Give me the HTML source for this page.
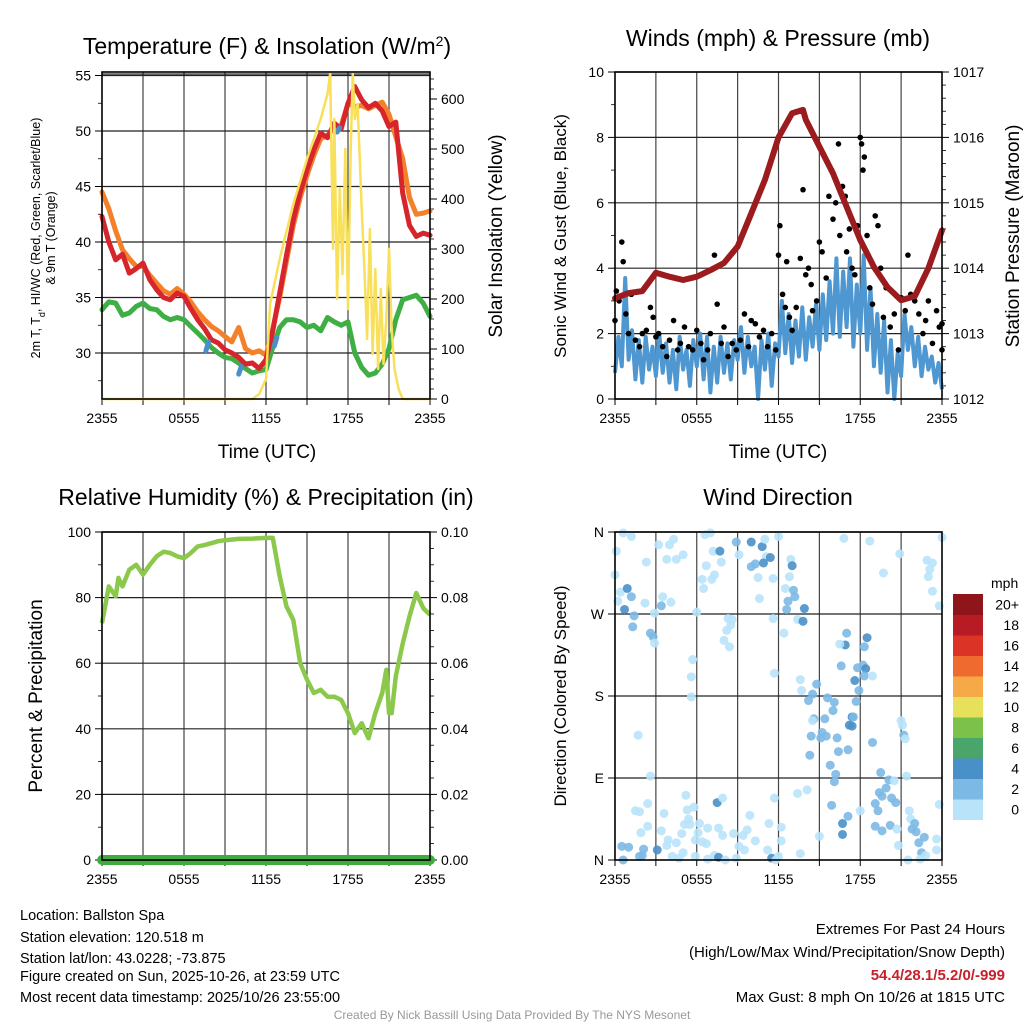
<!DOCTYPE html>
<html><head><meta charset="utf-8"><title>Mesonet Meteogram</title>
<style>
html,body{margin:0;padding:0;background:#fff;}
svg{display:block;font-family:"Liberation Sans",Arial,sans-serif;}
</style></head>
<body>
<svg id="chart" width="1024" height="1024" viewBox="0 0 1024 1024" xmlns="http://www.w3.org/2000/svg">
<rect width="1024" height="1024" fill="#fff"/>
<g id="layer"></g>
<text x="267" y="54" font-size="23" text-anchor="middle">Temperature (F) &amp; Insolation (W/m<tspan baseline-shift="super" font-size="14">2</tspan>)</text>
<text x="778" y="46" font-size="23" text-anchor="middle">Winds (mph) &amp; Pressure (mb)</text>
<text x="266" y="505" font-size="23" text-anchor="middle">Relative Humidity (%) &amp; Precipitation (in)</text>
<text x="778" y="505" font-size="23" text-anchor="middle">Wind Direction</text>
<text x="267" y="458" font-size="19" text-anchor="middle">Time (UTC)</text>
<text x="778" y="458" font-size="19" text-anchor="middle">Time (UTC)</text>
<text transform="translate(40,238) rotate(-90)" font-size="12.5" text-anchor="middle">2m T, T<tspan baseline-shift="sub" font-size="9">d</tspan>, HI/WC (Red, Green, Scarlet/Blue)</text>
<text transform="translate(55,238) rotate(-90)" font-size="12.5" text-anchor="middle">&amp; 9m T (Orange)</text>
<text transform="translate(502,236) rotate(-90)" font-size="19" text-anchor="middle">Solar Insolation (Yellow)</text>
<text transform="translate(566,236) rotate(-90)" font-size="17" text-anchor="middle">Sonic Wind &amp; Gust (Blue, Black)</text>
<text transform="translate(1019,236) rotate(-90)" font-size="19" text-anchor="middle">Station Pressure (Maroon)</text>
<text transform="translate(42,696) rotate(-90)" font-size="19" text-anchor="middle">Percent &amp; Precipitation</text>
<text transform="translate(566,696) rotate(-90)" font-size="17" text-anchor="middle">Direction (Colored By Speed)</text>
<g font-size="14.5">
<text x="20" y="920">Location: Ballston Spa</text>
<text x="20" y="942">Station elevation: 120.518 m</text>
<text x="20" y="963">Station lat/lon: 43.0228; -73.875</text>
<text x="20" y="981">Figure created on Sun, 2025-10-26, at 23:59 UTC</text>
<text x="20" y="1002">Most recent data timestamp: 2025/10/26 23:55:00</text>
</g>
<g font-size="15" text-anchor="end">
<text x="1005" y="934">Extremes For Past 24 Hours</text>
<text x="1005" y="957">(High/Low/Max Wind/Precipitation/Snow Depth)</text>
<text x="1005" y="980" fill="#c8202a" font-weight="bold">54.4/28.1/5.2/0/-999</text>
<text x="1005" y="1002">Max Gust: 8 mph On 10/26 at 1815 UTC</text>
</g>
<text x="512" y="1019" font-size="12" fill="#999" text-anchor="middle">Created By Nick Bassill Using Data Provided By The NYS Mesonet</text>
</svg>
<script>
// ---- data ----
const timeTickLabels = ["2355","0555","1155","1755","2355"];
const tempTicks = [30,35,40,45,50,55];
const solarTicks = [0,100,200,300,400,500,600];
const windTicks = [0,2,4,6,8,10];
const presTicks = [1012,1013,1014,1015,1016,1017];
const rhTicks = [0,20,40,60,80,100];
const precipTicks = ["0.00","0.02","0.04","0.06","0.08","0.10"];
const dirLabels = ["N","E","S","W","N"];
const speedLegendLabels = ["0","2","4","6","8","10","12","14","16","18","20+"];
const speedLegendColors = ["#b8e3f9","#7db9e5","#4a90c8","#4aa56b","#7cc24a","#e6e05a","#f5a947","#ee6a2e","#dc3327","#b71c24","#8e1519"];

const tempHours = [0,0.5,1,1.5,2,2.5,3,3.5,4,4.5,5,5.5,6,6.5,7,7.5,8,8.5,9,9.5,10,10.5,11,11.5,12,12.5,13,13.5,14,14.5,15,15.5,16,16.5,17,17.5,18,18.5,19,19.5,20,20.5,21,21.5,22,22.5,23,23.5,24];
const temp2m = [42.3,40.0,38.4,38.9,37.2,37.6,38.1,36.6,35.7,35.0,34.8,35.4,35.1,34.0,33.0,32.2,31.2,30.9,30.3,30.0,29.6,29.0,29.1,28.6,29.4,32.0,35.4,38.8,42.0,44.5,46.5,48.3,49.8,49.4,50.7,50.2,52.5,54.0,52.8,52.1,52.5,51.8,50.4,50.8,44.4,41.5,40.5,40.8,40.6];
const temp9m = [44.5,43.0,41.0,39.3,38.5,37.8,37.8,37.0,36.3,35.6,35.3,35.8,35.3,34.6,33.7,33.0,32.4,32.0,31.5,31.0,32.3,30.4,30.0,30.2,29.8,32.2,35.0,38.3,41.5,44.0,46.0,47.8,49.3,49.6,50.3,50.5,52.5,52.2,52.3,52.0,52.3,52.6,51.5,49.5,47.5,44.0,42.5,42.6,42.8];
const dewpoint = [33.9,34.6,34.5,33.4,33.6,34.2,34.5,34.0,33.9,33.3,33.0,33.2,33.0,32.4,31.8,31.2,30.5,30.0,29.6,29.5,29.1,28.6,28.2,28.4,28.5,30.5,32.3,33.0,33.0,32.8,32.3,32.5,32.0,33.2,32.8,32.5,32.8,30.0,28.7,28.0,28.2,29.0,30.4,33.0,34.8,35.0,35.2,34.5,33.3];
const hiwcHours = [[7.6,7.8],[10.0,10.2],[12.6,12.8],[17.2,17.4]];
const hiwcTemps = [[30.2,31.0],[28.1,28.8],[30.6,31.4],[49.9,50.3]];

const solarHours = [0,11,11.5,12,12.3,13,14,15,16,16.5,16.7,16.9,17.0,17.2,17.4,17.6,17.8,18.0,18.2,18.35,18.5,18.7,19.0,19.2,19.4,19.6,19.8,20.0,20.2,20.4,20.6,20.8,21.0,21.2,21.4,21.7,22,24];
const solarValues = [0,0,10,40,190,280,390,480,560,610,652,300,560,200,420,250,500,180,500,650,560,590,380,260,120,340,90,260,60,220,70,160,300,140,60,20,0,0];

const presHours = [0,1,2,3,4,5,6,7,8,9,10,11,12,13,13.8,14,15,16,17,18,19,20,21,22,23,24];
const presValues = [1013.54,1013.62,1013.65,1013.93,1013.87,1013.82,1013.87,1013.97,1014.08,1014.33,1014.84,1015.35,1016.0,1016.37,1016.42,1016.27,1015.86,1015.45,1014.94,1014.43,1014.02,1013.71,1013.51,1013.57,1014.0,1014.58];

// sonic wind every 15 minutes from 2355
const windSpeeds = [
 0.8,1.9,1.0,3.7,1.2,2.1,0.6,1.8,0.5,1.9,0.9,1.6,0.7,
 2.0,0.8,1.7,0.5,1.5,0.3,1.9,0.9,1.5,0.4,1.8,1.0,
 2.0,0.6,1.9,0.2,1.6,0.5,1.9,0.8,1.7,0.6,1.8,1.2,
 2.2,0.8,1.9,1.0,1.6,0.0,1.8,0.9,2.0,0.4,1.7,1.3,
 3.0,1.4,2.6,1.1,2.4,1.3,2.8,1.2,2.5,1.6,2.9,1.5,
 3.2,1.8,3.6,2.0,4.3,1.9,3.9,2.2,4.3,1.6,3.5,2.0,
 4.4,1.5,3.4,1.0,2.6,0.8,2.4,0.2,1.8,0.0,1.4,0.7,
 2.6,1.5,2.2,1.0,1.9,0.7,1.6,0.9,1.3,0.5,1.1,0.3];
const windStepHours = 0.25;

const gustHours = [0.0,0.1,0.3,0.5,0.6,0.8,1.0,1.2,1.5,1.8,2.0,2.3,2.6,2.8,3.0,3.2,3.5,3.8,4.0,4.3,4.6,4.8,5.1,5.4,5.7,6.0,6.3,6.5,6.8,7.0,7.3,7.5,7.8,8.0,8.3,8.6,8.9,9.2,9.5,9.8,10.0,10.3,10.6,10.9,11.2,11.5,11.8,12.0,12.1,12.3,12.5,12.6,12.8,13.0,13.3,13.6,13.8,14.0,14.2,14.4,14.5,14.8,15.0,15.2,15.5,15.7,15.9,16.0,16.2,16.4,16.5,16.7,16.9,17.0,17.2,17.4,17.6,17.8,18.0,18.1,18.2,18.3,18.5,18.7,18.9,19.1,19.3,19.5,19.7,19.9,20.2,20.5,20.8,21.0,21.3,21.5,21.7,22.0,22.3,22.6,22.8,23.0,23.3,23.6,23.8,24.0,24.0];
const gustSpeeds = [2.4,3.3,3.0,4.8,4.2,2.6,2.0,3.2,1.8,1.6,2.0,2.1,2.8,2.5,1.9,2.0,1.6,1.3,1.8,2.4,1.5,1.7,2.2,1.6,1.5,2.1,1.7,1.2,1.5,2.0,4.4,2.9,1.7,2.2,1.3,1.7,1.5,1.8,2.6,1.6,2.4,2.3,1.9,2.1,1.6,2.0,1.5,4.4,5.3,3.2,2.8,4.2,2.5,2.1,2.8,4.3,6.4,3.8,4.0,3.5,2.7,3.0,4.8,4.5,3.7,6.2,7.0,5.5,6.0,7.8,5.0,6.5,6.2,4.5,5.2,4.0,3.8,5.3,8.0,7.8,7.0,7.4,5.0,3.4,2.9,5.6,5.3,4.0,2.5,3.4,2.2,2.6,1.5,3.1,2.7,4.4,3.2,3.0,2.6,2.0,2.4,3.0,1.7,2.7,2.2,1.5,2.3];

const rhHours = [0,0.5,1,1.2,1.5,2,2.5,3,3.5,4,4.5,5,5.5,6,6.5,7,7.5,8,8.5,9,10,11,12,12.5,13,13.5,14,14.5,15,15.5,16,16.5,17,17.5,18,18.5,19,19.5,20,20.5,20.8,21,21.2,21.5,22,22.5,23,23.5,24];
const rhValues = [72.2,83.4,80.4,86,83.4,88.5,90,87,90,92.6,94,93.6,92.6,92,93.6,95.6,96,96.6,97.2,97.5,97.9,98,98.2,98.2,86.5,77.3,73.2,60,55,50.9,51.9,49.8,49.8,48.8,44.8,38.7,41.7,37.1,44.8,50.9,58,44.8,44.8,56,66,74.3,81.4,76.8,74.8];
const precipHours = [0,24];
const precipValues = [0,0];

const dirHours = [
 0.6,1.2,0.1,0,2.3,3.2,4.0,4.3,3.8,4.5,
 5.0,6.6,7.0,7.2,7.7,7.8,6.7,6.4,7.1,7.3,
 6.5,8.9,9.1,10.0,10.8,11.0,11.1,11.4,10.3,10.9,
 10.0,10.5,11.6,10.6,12.0,12.9,13.0,12.8,12.5,13.1,
 13.2,12.7,12.6,13.9,13.4,11.6,12.4,13.8,16.8,18.7,
 20.9,19.7,22.9,23.3,23.1,23.0,23.3,23.8,24.0,0.4,
 0.9,1.2,0.2,0.7,1.4,1.3,2.2,2.9,3.5,3.4,
 4.1,2.6,2.8,2.9,6.0,8.3,8.6,8.5,8.2,8.0,
 8.4,5.7,5.6,5.6,1.7,2.6,11.7,13.6,13.7,17.0,
 16.9,16.5,18.5,18.3,16.6,17.8,18.2,18.4,18.3,18.9,
 17.6,14.8,14.5,14.2,15.6,16.1,17.9,17.7,16.0,15.4,
 14.6,14.5,17.4,17.5,17.2,17.4,15.2,15.5,15.1,14.4,
 16.3,17.1,16.4,14.3,15.8,16.2,16.1,18.9,21.0,21.1,
 21.2,21.3,21.4,19.5,20.1,20.5,19.9,19.4,19.6,20.3,
 20.6,19.1,19.3,18.0,17.1,16.7,16.7,15.9,19.1,19.6,
 20.2,20.7,21.6,21.7,22.0,22.1,21.8,22.7,22.3,22.5,
 22.8,23.6,23.6,23.8,20.8,21.5,22.4,0.5,1.0,0.6,
 2.1,2.0,1.8,3.1,1.5,1.8,2.4,2.4,1.9,3.6,
 3.4,3.9,3.8,4.5,4.2,4.7,5.0,4.9,5.2,5.3,
 5.8,5.4,5.1,5.5,6.2,6.1,5.9,6.4,6.7,6.8,
 5.9,6.8,7.5,7.6,7.9,7.9,7.3,7.6,8.1,8.7,
 8.9,9.1,9.4,9.7,9.5,9.9,10.3,11.3,11.2,11.5,
 11.8,12.0,12.2,12.2,11.7,13.4,14.1,13.6,15.0];
const dirDegrees = [
 359,355,339,313,327,346,346,352,330,330,
 335,357,359,339,339,327,323,308,308,313,
 298,349,335,349,344,352,333,332,325,326,
 322,310,309,287,355,330,323,311,298,296,
 289,284,275,276,264,265,249,262,353,350,
 336,315,329,326,319,311,295,279,354,294,
 298,289,284,275,268,256,282,271,289,279,
 283,249,245,238,272,265,264,258,252,241,
 234,220,201,179,137,92,205,198,186,249,
 236,237,244,234,213,211,214,210,202,202,
 197,193,182,175,178,173,186,174,164,155,
 155,153,157,157,148,147,140,136,134,136,
 134,121,119,115,104,94,86,129,153,148,
 137,133,92,96,88,87,79,74,70,68,
 63,62,54,54,48,40,28,60,37,32,
 38,34,54,45,40,31,34,25,19,8,
 5,23,11,61,16,0,1,15,14,0,
 12,5,4,11,54,53,62,37,30,51,
 32,22,16,19,4,2,8,29,71,55,
 58,45,39,39,40,30,22,20,18,35,
 4,1,63,35,68,27,5,3,0,29,
 2,15,27,33,11,49,21,40,11,2,
 0,4,36,21,68,73,77,7,26];
const dirSpeeds = [
 1,1,1,1,1,1,1,1,1,1,
 1,1,1,1,5,1,1,1,1,1,
 1,3,1,5,5,1,1,5,3,5,
 3,1,1,1,1,1,5,1,1,3,
 3,3,3,5,1,1,1,5,1,1,
 1,1,1,1,1,1,1,1,1,1,
 5,3,1,5,3,3,1,1,1,3,
 1,3,3,1,1,1,1,1,1,1,
 1,1,1,1,1,1,1,1,1,3,
 5,1,5,3,3,3,3,5,3,1,
 5,3,3,3,3,3,3,3,3,3,
 3,1,5,3,5,5,3,3,3,3,
 3,3,3,3,3,3,3,3,1,1,
 3,1,1,3,3,1,3,3,3,3,
 3,3,3,1,3,5,5,3,3,3,
 3,1,1,1,3,3,3,3,3,3,
 1,1,1,1,1,1,1,3,3,3,
 3,3,3,5,1,1,1,1,1,1,
 1,1,1,1,1,1,1,1,1,1,
 1,1,1,1,1,1,1,1,1,1,
 1,1,5,1,1,1,1,5,1,1,
 1,1,1,1,1,1,1,1,1,5,
 1,1,1,1,1,1,1,1,1];

// ---- rendering ----
const NS = "http://www.w3.org/2000/svg";
const layer = document.getElementById("layer");
function mk(tag, attrs, parent) {
  const e = document.createElementNS(NS, tag);
  for (const k in attrs) e.setAttribute(k, attrs[k]);
  (parent || layer).appendChild(e);
  return e;
}
function linScale(d0, d1, r0, r1) { return v => r0 + (v - d0) / (d1 - d0) * (r1 - r0); }

const P1 = {x0:102, x1:430, y0:72, y1:399};
const P2 = {x0:615, x1:942, y0:72, y1:399};
const P3 = {x0:102, x1:430, y0:532, y1:860};
const P4 = {x0:615, x1:942, y0:532, y1:860};

const x1s = linScale(0, 24, P1.x0, P1.x1);
const x2s = linScale(0, 24, P2.x0, P2.x1);
const x3s = linScale(0, 24, P3.x0, P3.x1);
const x4s = linScale(0, 24, P4.x0, P4.x1);
const yTemp = linScale(30, 50, 353, 131);
const ySolar = linScale(0, 600, 399, 99);
const yWind = linScale(0, 10, 399, 72);
const yPres = linScale(1012, 1017, 399, 72);
const yRH = linScale(0, 100, 860, 532);
const yDir = linScale(0, 360, 860, 532);

function panelFrame(P, name, xs, yLeftTicks, yLeftFn, yLeftLabels, yLeftMinor, yRightTicks, yRightFn, yRightLabels, yRightMinor, gridH) {
  const g = mk("g", {});
  
  
  for (let h = 3; h < 24; h += 3) {
    const x = xs(h);
    const gl = mk("line", {x1:x, x2:x, y1:P.y0, y2:P.y1, stroke:"#444", "stroke-width":1.2}, g);
    
    
  }
  gridH.forEach(y => {
    const hl = mk("line", {x1:P.x0, x2:P.x1, y1:y, y2:y, stroke:"#222", "stroke-width":1.2}, g);
    
    
  });
  for (let h = 0; h <= 24; h += 3) {
    const x = xs(h);
    mk("line", {x1:x, x2:x, y1:P.y1, y2:P.y1 + 6, stroke:"#000", "stroke-width":1}, g);
  }
  timeTickLabels.forEach((lab, i) => {
    const t = mk("text", {x:xs(i * 6), y:P.y1 + 24, "font-size":14, "text-anchor":"middle"}, g);
    t.textContent = lab;
    
    
  });
  yLeftTicks.forEach((v, i) => {
    const y = yLeftFn(v);
    mk("line", {x1:P.x0 - 7, x2:P.x0, y1:y, y2:y, stroke:"#000", "stroke-width":1}, g);
    const t = mk("text", {x:P.x0 - 11, y:y + 5, "font-size":14, "text-anchor":"end"}, g);
    t.textContent = yLeftLabels[i];
    
    
  });
  yLeftMinor.forEach(v => {
    const y = yLeftFn(v);
    mk("line", {x1:P.x0 - 4, x2:P.x0, y1:y, y2:y, stroke:"#000", "stroke-width":0.8}, g);
  });
  if (yRightTicks) {
    yRightTicks.forEach((v, i) => {
      const y = yRightFn(v);
      mk("line", {x1:P.x1, x2:P.x1 + 7, y1:y, y2:y, stroke:"#000", "stroke-width":1}, g);
      const t = mk("text", {x:P.x1 + 11, y:y + 5, "font-size":14, "text-anchor":"start"}, g);
      t.textContent = yRightLabels[i];
      
      
    });
    yRightMinor.forEach(v => {
      const y = yRightFn(v);
      mk("line", {x1:P.x1, x2:P.x1 + 4, y1:y, y2:y, stroke:"#000", "stroke-width":0.8}, g);
    });
  }
  return g;
}
function frameBox(P, name) {
  const r = mk("rect", {x:P.x0, y:P.y0, width:P.x1 - P.x0, height:P.y1 - P.y0, fill:"none", stroke:"#000", "stroke-width":1.6});
  
  
}
function pathFrom(xsArr, ysArr, xs, ys) {
  return xsArr.map((h, i) => (i ? "L" : "M") + xs(h).toFixed(1) + "," + ys(ysArr[i]).toFixed(1)).join(" ");
}
function range(a, b, s) { const r = []; for (let v = a; v <= b + 1e-9; v += s) r.push(+v.toFixed(4)); return r; }

// ---- Panel 1 ----
panelFrame(P1, "temperature", x1s, tempTicks, yTemp, tempTicks.map(String), range(27.5, 52.5, 5),
  solarTicks, ySolar, solarTicks.map(String), range(20, 640, 20).filter(v => v % 100 !== 0),
  tempTicks.map(yTemp));
mk("line", {x1:P1.x0, x2:P1.x1, y1:P1.y0 + 2, y2:P1.y0 + 2, stroke:"#000", "stroke-width":1});
let p;
p = mk("path", {d:pathFrom(tempHours, dewpoint, x1s, yTemp), fill:"none", stroke:"#3fae44", "stroke-width":5, "stroke-linejoin":"round", "stroke-linecap":"round"});


p = mk("path", {d:pathFrom(tempHours, temp9m, x1s, yTemp), fill:"none", stroke:"#f4802c", "stroke-width":5, "stroke-linejoin":"round", "stroke-linecap":"round"});


p = mk("path", {d:pathFrom(tempHours, temp2m, x1s, yTemp), fill:"none", stroke:"#d7262b", "stroke-width":5, "stroke-linejoin":"round", "stroke-linecap":"round"});


hiwcHours.forEach((hs, i) => {
  const s = mk("path", {d:pathFrom(hs, hiwcTemps[i], x1s, yTemp), fill:"none", stroke:"#4a90c8", "stroke-width":5, "stroke-linecap":"round"});
  
  
});
p = mk("path", {d:pathFrom(solarHours, solarValues, x1s, ySolar), fill:"none", stroke:"#f8e05a", "stroke-width":2.5, "stroke-linejoin":"round"});


frameBox(P1, "temperature");

// ---- Panel 2 ----
panelFrame(P2, "winds", x2s, windTicks, yWind, windTicks.map(String), range(1, 9, 2),
  presTicks, yPres, presTicks.map(String), range(1012.2, 1016.8, 0.2).filter(v => Math.abs(v - Math.round(v)) > 0.01),
  windTicks.map(yWind));
const windHours = windSpeeds.map((v, i) => i * windStepHours);
p = mk("path", {d:pathFrom(windHours, windSpeeds, x2s, yWind), fill:"none", stroke:"#4f97d1", "stroke-width":4, "stroke-linejoin":"round"});


gustHours.forEach((h, i) => {
  const c = mk("circle", {cx:x2s(h), cy:yWind(gustSpeeds[i]), r:2.8, fill:"#000"});
  
  
});
p = mk("path", {d:pathFrom(presHours, presValues, x2s, yPres), fill:"none", stroke:"#9b1b1e", "stroke-width":6, "stroke-linejoin":"round", "stroke-linecap":"round"});


frameBox(P2, "winds");

// ---- Panel 3 ----
panelFrame(P3, "humidity", x3s, rhTicks, yRH, rhTicks.map(String), range(10, 90, 20),
  rhTicks, yRH, precipTicks, range(5, 95, 5).filter(v => v % 20 !== 0),
  rhTicks.map(yRH));
p = mk("path", {d:pathFrom(rhHours, rhValues, x3s, yRH), fill:"none", stroke:"#8cc84b", "stroke-width":4.5, "stroke-linejoin":"round"});


const yPrecip = v => yRH(v * 1000);
p = mk("path", {d:pathFrom(precipHours, precipValues, x3s, yPrecip), fill:"none", stroke:"#41ab3f", "stroke-width":10, "stroke-linecap":"round"});


frameBox(P3, "humidity");

// ---- Panel 4 ----
panelFrame(P4, "wind-direction", x4s, [0,90,180,270,360], yDir, dirLabels, [],
  null, null, null, null, [90,180,270,360].map(yDir));
function speedColor(s) { return speedLegendColors[Math.min(10, Math.max(0, Math.floor((s || 0) / 2)))]; }
dirHours.forEach((h, i) => {
  const c = mk("circle", {cx:x4s(h), cy:yDir(dirDegrees[i]), r:4.5, fill:speedColor(dirSpeeds[i]), "fill-opacity":0.9});
  
  
});
frameBox(P4, "wind-direction");

const lg = mk("g", {});


const lt = mk("text", {x:991, y:588, "font-size":14}, lg);
lt.textContent = "mph";


const boxH = 20.5, boxTop = 594;
speedLegendColors.forEach((col, i) => {
  const y = boxTop + (10 - i) * boxH;
  const r = mk("rect", {x:953, y:y, width:30, height:boxH + 0.5, fill:col}, lg);
  
  
  const t = mk("text", {x:1019, y:y + boxH / 2 + 5, "font-size":14, "text-anchor":"end"}, lg);
  t.textContent = speedLegendLabels[i];
  
  
});
</script>
</body></html>
